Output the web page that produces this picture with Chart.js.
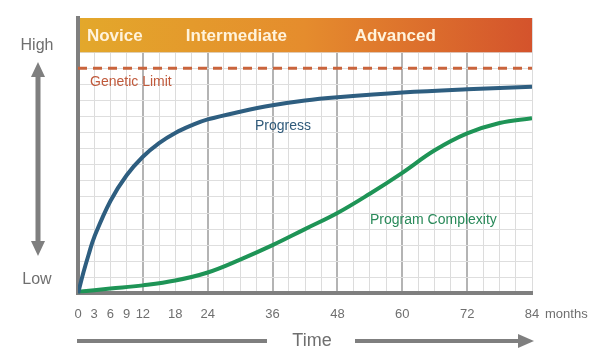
<!DOCTYPE html>
<html>
<head>
<meta charset="utf-8">
<script src="https://cdn.jsdelivr.net/npm/chart.js@4.4.1/dist/chart.umd.min.js"></script>
<style>
html,body{margin:0;padding:0;background:#fff;}
#wrap{width:607px;height:360px;position:relative;}
</style>
</head>
<body>
<div id="wrap"><canvas id="c" width="607" height="360"></canvas></div>
<script>
// ---- data ----
const progressMonths   = [0, 1, 2, 3, 6, 9, 12, 15, 18, 21, 24, 30, 36, 42, 48, 60, 72, 84];
const progressValues   = [0, 1.3, 2.45, 3.5, 5.75, 7.35, 8.5, 9.35, 9.98, 10.45, 10.82, 11.3, 11.7, 12.0, 12.2, 12.5, 12.7, 12.85];
const complexityMonths = [0, 6, 12, 18, 24, 30, 36, 42, 48, 54, 60, 66, 72, 78, 84];
const complexityValues = [0.1, 0.3, 0.5, 0.8, 1.3, 2.1, 3.0, 4.0, 5.0, 6.2, 7.5, 8.9, 9.95, 10.6, 10.9];
const geneticLimit = 14;
const tickLabels = [0, 3, 6, 9, 12, 18, 24, 36, 48, 60, 72, 84];
const phaseNames  = ['Novice', 'Intermediate', 'Advanced'];
const phaseCenters = [6.8, 29.3, 58.7];
const bandFrom = 15;

const FONT = "'Liberation Sans', Arial, sans-serif";

const toXY = (xs, ys) => xs.map((x, i) => ({x: x, y: ys[i]}));

const decorPlugin = {
  id: 'decor',
  beforeDatasetsDraw(chart) {
    const {ctx, chartArea: a, scales: {x, y}} = chart;
    const top = a.top, bot = y.getPixelForValue(bandFrom);
    const g = ctx.createLinearGradient(a.left, 0, a.right, 0);
    g.addColorStop(0, '#E3A82B');
    g.addColorStop(0.5, '#E58C2D');
    g.addColorStop(1, '#D4532C');
    ctx.save();
    ctx.fillStyle = g;
    ctx.fillRect(a.left + 2, top, a.right - a.left - 2, bot - top);
    ctx.fillStyle = '#FFF3DC';
    ctx.font = 'bold 17px ' + FONT;
    ctx.textAlign = 'center';
    ctx.textBaseline = 'middle';
    phaseNames.forEach((n, i) => ctx.fillText(n, x.getPixelForValue(phaseCenters[i]), (top + bot) / 2 + 1));
    ctx.restore();
  },
  afterDraw(chart) {
    const {ctx} = chart;
    ctx.save();
    ctx.font = '14px ' + FONT;
    ctx.textBaseline = 'middle';
    ctx.textAlign = 'left';
    ctx.fillStyle = '#C05A3C';
    ctx.fillText('Genetic Limit', 90, 82);
    ctx.fillStyle = '#2F5A7A';
    ctx.fillText('Progress', 255, 126);
    ctx.fillStyle = '#2A8A5A';
    ctx.fillText('Program Complexity', 370, 220);

    const grey = '#7f7f7f';
    ctx.fillStyle = '#6f6f6f';
    ctx.font = '13px ' + FONT;
    ctx.fillText('months', 545, 314);
    ctx.font = '16px ' + FONT;
    ctx.textAlign = 'center';
    ctx.fillText('High', 37, 46);
    ctx.fillText('Low', 37, 280);
    ctx.font = '18px ' + FONT;
    ctx.fillText('Time', 312, 341);

    // vertical double arrow
    ctx.strokeStyle = grey; ctx.fillStyle = grey; ctx.lineWidth = 5;
    ctx.beginPath(); ctx.moveTo(38, 72); ctx.lineTo(38, 246); ctx.stroke();
    ctx.beginPath(); ctx.moveTo(38, 62); ctx.lineTo(31, 77); ctx.lineTo(45, 77); ctx.closePath(); ctx.fill();
    ctx.beginPath(); ctx.moveTo(38, 256); ctx.lineTo(31, 241); ctx.lineTo(45, 241); ctx.closePath(); ctx.fill();
    // horizontal time arrow
    ctx.lineWidth = 4;
    ctx.beginPath(); ctx.moveTo(77, 341); ctx.lineTo(267, 341); ctx.stroke();
    ctx.beginPath(); ctx.moveTo(355, 341); ctx.lineTo(522, 341); ctx.stroke();
    ctx.beginPath(); ctx.moveTo(534, 341); ctx.lineTo(518, 334); ctx.lineTo(518, 348); ctx.closePath(); ctx.fill();
    ctx.restore();
  }
};

new Chart(document.getElementById('c'), {
  type: 'line',
  data: {
    datasets: [
      {
        label: 'Genetic Limit',
        data: [{x: 0, y: geneticLimit}, {x: 84, y: geneticLimit}],
        borderColor: '#C9643C', borderWidth: 3, borderDash: [9, 6],
        pointRadius: 0, fill: false
      },
      {
        label: 'Progress',
        data: toXY(progressMonths, progressValues),
        borderColor: '#2E5E80', borderWidth: 4,
        pointRadius: 0, tension: 0.4, fill: false
      },
      {
        label: 'Program Complexity',
        data: toXY(complexityMonths, complexityValues),
        borderColor: '#1E9456', borderWidth: 4,
        pointRadius: 0, tension: 0.4, fill: false
      }
    ]
  },
  options: {
    responsive: false,
    animation: false,
    events: [],
    layout: {padding: {left: 78, right: 75, top: 18, bottom: 25}},
    plugins: {legend: {display: false}, tooltip: {enabled: false}},
    scales: {
      x: {
        type: 'linear', min: 0, max: 84,
        afterBuildTicks(s) {
          const t = [];
          for (let v = 0; v <= 84; v += 3) t.push({value: v});
          s.ticks = t;
        },
        ticks: {
          autoSkip: false, maxRotation: 0, padding: 13,
          color: '#6f6f6f', font: {family: FONT, size: 13},
          callback: v => tickLabels.includes(v) ? String(v) : ''
        },
        grid: {
          drawTicks: false,
          color: c => (c.tick && c.tick.value % 12 === 0 && c.tick.value !== 84) ? '#b4b4b4' : '#dcdcdc',
          lineWidth: c => (c.tick && c.tick.value % 12 === 0 && c.tick.value !== 84) ? 2 : 1
        },
        border: {display: true, color: '#7f7f7f', width: 4}
      },
      y: {
        type: 'linear', min: 0, max: 17.13,
        afterBuildTicks(s) {
          const t = [];
          for (let v = 0; v <= 15; v += 1) t.push({value: v});
          s.ticks = t;
        },
        ticks: {display: false},
        grid: {drawTicks: false, color: '#dedede', lineWidth: 1},
        border: {display: true, color: '#7f7f7f', width: 4}
      }
    }
  },
  plugins: [decorPlugin]
});
</script>
</body>
</html>
